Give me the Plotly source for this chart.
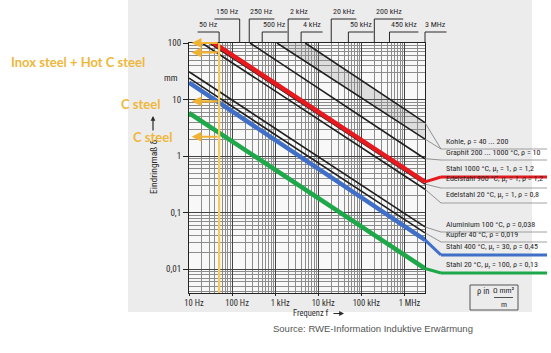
import math
import plotly.graph_objects as go

# ---------------- data ----------------
MATERIALS = ["Kohle rho=40", "Kohle rho=200", "Graphit", "Edelstahl 900 °C", "Edelstahl 20 °C",
             "Aluminium", "Kupfer", "Stahl 1000 °C", "Stahl 400 °C", "Stahl 20 °C"]
F_START = [1100, 5000, 260, 30, 20, 10, 10, 30, 10, 10]          # Hz
D_START = [100, 100, 100, 100, 100, 31, 24, 112, 20, 5.8]          # mm
F_END = [3e6, 3e6, 3e6, 3e6, 3e6, 3e6, 3e6, 3e6, 3e6, 3e6]         # Hz
D_END = [2.0, 3.9, 0.9, 0.32, 0.26, 0.056, 0.044, 0.35, 0.033, 0.0103]  # mm
LEGEND_ROW = [0, 0, 1, 3, 4, 5, 6, 2, 7, 8]

LEGEND_TEXT = [
    "Kohle, ρ = 40 ... 200",
    "Graphit 200 ... 1000 °C, ρ = 10",
    "Stahl 1000 °C, μ<sub>r</sub> = 1, ρ = 1,2",
    "Edelstahl 900 °C, μ<sub>r</sub> = 1, ρ = 1,2",
    "Edelstahl 20 °C, μ<sub>r</sub> = 1, ρ = 0,8",
    "Aluminium 100 °C, ρ = 0,038",
    "Kupfer 40 °C, ρ = 0,019",
    "Stahl 400 °C, μ<sub>r</sub> = 30, ρ = 0,45",
    "Stahl 20 °C, μ<sub>r</sub> = 100, ρ = 0,13",
]

X_TICKS = [10, 100, 1e3, 1e4, 1e5, 1e6]
X_TICKTEXT = ["10 Hz", "100 Hz", "1 kHz", "10 kHz", "100 kHz", "1 MHz"]
Y_TICKS = [0.01, 0.1, 1, 10, 100]
Y_TICKTEXT = ["0,01", "0,1", "1", "10", "100"]

TOP_UPPER_F = [150, 250, 2000, 20000, 200000]
TOP_UPPER_T = ["150 Hz", "250 Hz", "2 kHz", "20 kHz", "200 kHz"]
TOP_LOWER_F = [50, 500, 4000, 50000, 450000, 3e6]
TOP_LOWER_T = ["50 Hz", "500 Hz", "4 kHz", "50 kHz", "450 kHz", "3 MHz"]

MARK_F = 50                       # Hz (orange overlay)
ARROW_DEPTHS = [100, 68, 9.3, 2.2]  # mm

# ---------------- layout constants ----------------
W, H = 551, 353
X0, X1 = 189, 425      # plot left/right px
Y0, Y1 = 43, 293       # plot top/bottom px
XR = [1.0, math.log10(3e6)]
YR = [-2.42, 2.0]

def px(x):
    return x / W

def py(y):
    return 1 - y / H

def xpx(f):
    return X0 + (math.log10(f) - XR[0]) / (XR[1] - XR[0]) * (X1 - X0)

def ypx(d):
    return Y1 - (math.log10(d) - YR[0]) / (YR[1] - YR[0]) * (Y1 - Y0)

FONT = "Liberation Sans Narrow, Arial Narrow, Roboto Condensed, Liberation Sans, sans-serif"
INK = "#2a2a2a"
ORANGE = "#F0B232"

fig = go.Figure()

# Kohle band (grey fill) then black lines
for i in range(len(MATERIALS)):
    if i in (7, 8, 9):
        continue
    fig.add_trace(go.Scatter(
        x=[F_START[i], F_END[i]], y=[D_START[i], D_END[i]], mode="lines",
        line=dict(color="#1e1e1e", width=1.6),
        fill="tonexty" if i == 1 else None,
        fillcolor="rgba(140,140,140,0.25)",
        hoverinfo="skip"))

COLORS = {7: "#E6191E", 8: "#3F6FC6", 9: "#1FA84A"}
for i in (7, 8, 9):
    fig.add_trace(go.Scatter(
        x=[F_START[i], F_END[i]], y=[D_START[i], D_END[i]], mode="lines",
        line=dict(color=COLORS[i], width=4.5), hoverinfo="skip"))

# yellow 50 Hz line
fig.add_trace(go.Scatter(x=[MARK_F, MARK_F], y=[10 ** YR[0], 10 ** YR[1]], mode="lines",
                         line=dict(color="#F5C95A", width=2.2), hoverinfo="skip"))

shapes = []
annotations = []

# page background & plot area
shapes.append(dict(type="rect", xref="paper", yref="paper", x0=px(128), x1=px(532), y0=py(312), y1=py(0),
                   fillcolor="#ececec", line=dict(width=0), layer="below"))
shapes.append(dict(type="rect", xref="paper", yref="paper", x0=px(X0), x1=px(X1), y0=py(Y1), y1=py(Y0),
                   fillcolor="#f8f8f8", line=dict(width=0), layer="below"))

# top frequency markers
def top_marker(f, text, under_y, left):
    xf = xpx(f)
    w = len(text) * 3.7 + 3
    shapes.append(dict(type="line", xref="paper", yref="paper", x0=px(xf), x1=px(xf), y0=py(Y0), y1=py(under_y),
                       line=dict(color=INK, width=1)))
    xa, xb = (xf - w, xf) if left else (xf, xf + w)
    shapes.append(dict(type="line", xref="paper", yref="paper", x0=px(xa), x1=px(xb), y0=py(under_y), y1=py(under_y),
                       line=dict(color=INK, width=1)))
    annotations.append(dict(xref="paper", yref="paper", x=px((xa + xb) / 2), y=py(under_y - 0.5),
                            text=text, showarrow=False, xanchor="center", yanchor="bottom",
                            font=dict(family=FONT, size=8, color=INK)))

for f, t in zip(TOP_UPPER_F, TOP_UPPER_T):
    top_marker(f, t, 19, f == 150)
for f, t in zip(TOP_LOWER_F, TOP_LOWER_T):
    top_marker(f, t, 32, f == 50)

# right-hand labels and leaders
ROW_UNDER = [149, 160, 177, 188, 203, 232, 242, 255, 273]
LX0, LX1 = 441, 547
for r, (t, uy) in enumerate(zip(LEGEND_TEXT, ROW_UNDER)):
    col, wid = "#8a8a8a", 0.8
    if r == 2:
        col, wid = "#E6191E", 3
    elif r == 7:
        col, wid = "#3F6FC6", 3
    elif r == 8:
        col, wid = "#1FA84A", 3
    shapes.append(dict(type="line", xref="paper", yref="paper", x0=px(LX0), x1=px(LX1), y0=py(uy), y1=py(uy),
                       line=dict(color=col, width=wid)))
    annotations.append(dict(xref="paper", yref="paper", x=px(444), y=py(uy - 1.5), text=t, showarrow=False,
                            xanchor="left", yanchor="bottom", font=dict(family=FONT, size=8, color=INK)))

for i in range(len(MATERIALS)):
    r = LEGEND_ROW[i]
    col, wid = "#7a7a7a", 0.8
    if i == 7:
        col, wid = "#E6191E", 3
    elif i == 8:
        col, wid = "#3F6FC6", 3
    elif i == 9:
        col, wid = "#1FA84A", 3
    shapes.append(dict(type="line", xref="paper", yref="paper", x0=px(X1), x1=px(LX0),
                       y0=py(ypx(D_END[i])), y1=py(ROW_UNDER[r]), line=dict(color=col, width=wid)))

# rho unit box
shapes.append(dict(type="rect", xref="paper", yref="paper", x0=px(470), x1=px(518), y0=py(310), y1=py(285),
                   line=dict(color="#555", width=1), fillcolor="rgba(0,0,0,0)"))
shapes.append(dict(type="line", xref="paper", yref="paper", x0=px(494), x1=px(513), y0=py(297.5), y1=py(297.5),
                   line=dict(color=INK, width=0.8)))
annotations += [
    dict(xref="paper", yref="paper", x=px(483), y=py(297.5), text="ρ in", showarrow=False, xanchor="center",
         font=dict(family=FONT, size=8.5, color=INK)),
    dict(xref="paper", yref="paper", x=px(503.5), y=py(297), text="Ω mm²", showarrow=False, xanchor="center",
         yanchor="bottom", font=dict(family=FONT, size=8, color=INK)),
    dict(xref="paper", yref="paper", x=px(503.5), y=py(298), text="m", showarrow=False, xanchor="center",
         yanchor="top", font=dict(family=FONT, size=8, color=INK)),
]

# axis titles, units
annotations += [
    dict(xref="paper", yref="paper", x=px(180), y=py(71), text="mm", showarrow=False, xanchor="right",
         font=dict(family=FONT, size=9, color=INK)),
    dict(xref="paper", yref="paper", x=px(153), y=py(167), text="Eindringmaß δ", textangle=-90, showarrow=False,
         xanchor="center", font=dict(family=FONT, size=9.5, color=INK)),
    dict(xref="paper", yref="paper", x=px(153), y=py(116), ax=0, ay=16, text="", showarrow=True,
         arrowhead=2, arrowsize=0.8, arrowwidth=1.2, arrowcolor=INK),
    dict(xref="paper", yref="paper", x=px(291), y=py(313), text="Frequenz f", showarrow=False, xanchor="left",
         yanchor="middle", font=dict(family=FONT, size=8.5, color=INK)),
    dict(xref="paper", yref="paper", x=px(344), y=py(313.5), ax=-12, ay=0, text="", showarrow=True,
         arrowhead=2, arrowsize=0.8, arrowwidth=1.2, arrowcolor=INK),
    dict(xref="paper", yref="paper", x=px(373), y=py(328), text="Source: RWE-Information Induktive Erwärmung",
         showarrow=False, xanchor="center", yanchor="middle",
         font=dict(family="Liberation Sans, Arial, sans-serif", size=9.5, color="#555")),
]

# orange overlay: arrows and notes
for d in ARROW_DEPTHS:
    annotations.append(dict(xref="x", yref="y", axref="x", ayref="y",
                            x=math.log10(11.5), y=math.log10(d), ax=math.log10(MARK_F), ay=math.log10(d),
                            text="", showarrow=True, arrowhead=2, arrowsize=0.9, arrowwidth=2.2,
                            arrowcolor=ORANGE))
NOTE_FONT = dict(family="Lato, Open Sans, sans-serif", size=13, color="#EFB73A", weight=700)
annotations += [
    dict(xref="paper", yref="paper", x=px(9), y=py(52), text="Inox steel + Hot C steel", showarrow=False,
         xanchor="left", font=NOTE_FONT),
    dict(xref="paper", yref="paper", x=px(119), y=py(94), text="C steel", showarrow=False,
         xanchor="left", font=NOTE_FONT),
    dict(xref="paper", yref="paper", x=px(131), y=py(137), text="C steel", showarrow=False,
         xanchor="left", font=NOTE_FONT),
]

MINOR_X = [m * 10 ** e for e in range(1, 7) for m in range(2, 10) if m * 10 ** e <= 3e6]
MINOR_Y = [m * 10 ** e for e in range(-3, 2) for m in range(2, 10) if m * 10 ** e >= 0.004]

fig.update_layout(
    width=W, height=H, margin=dict(l=0, r=0, t=0, b=0, autoexpand=False),
    paper_bgcolor="white", plot_bgcolor="rgba(0,0,0,0)", showlegend=False,
    shapes=shapes, annotations=annotations,
    xaxis=dict(type="log", domain=[px(X0), px(X1)], range=XR, tickmode="array", tickvals=X_TICKS,
               ticktext=X_TICKTEXT, showgrid=True, gridcolor="#444", gridwidth=1,
               minor=dict(tickmode="array", tickvals=MINOR_X, showgrid=True, gridcolor="#8c8c8c", gridwidth=0.7),
               showline=True, linecolor="#222", linewidth=1.2, mirror=True, ticks="outside", ticklen=2,
               tickcolor="#222", zeroline=False, automargin=False, ticklabelshift=5,
               tickfont=dict(family=FONT, size=8.5, color=INK)),
    yaxis=dict(type="log", domain=[py(Y1), py(Y0)], range=YR, tickmode="array", tickvals=Y_TICKS,
               ticktext=Y_TICKTEXT, showgrid=True, gridcolor="#444", gridwidth=1,
               minor=dict(tickmode="array", tickvals=MINOR_Y, showgrid=True, gridcolor="#8c8c8c", gridwidth=0.7),
               showline=True, linecolor="#222", linewidth=1.2, mirror=True, ticks="outside", ticklen=5,
               tickcolor="#222", zeroline=False, automargin=False,
               tickfont=dict(family=FONT, size=9, color=INK)),
)

fig.write_html("out.html", config={"displayModeBar": False},
               post_script="document.body.style.margin='0px';document.body.style.overflow='hidden';")
